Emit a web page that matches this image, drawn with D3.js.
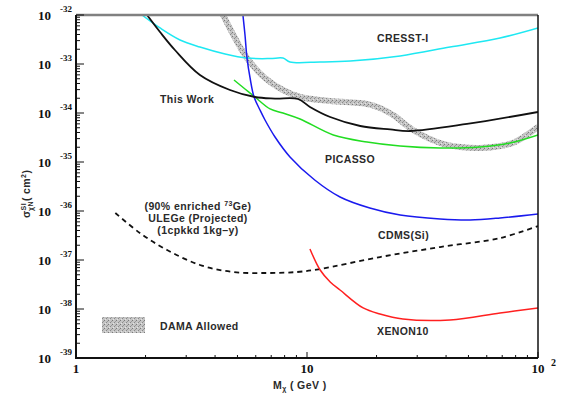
<!DOCTYPE html>
<html>
<head>
<meta charset="utf-8">
<script src="https://cdn.jsdelivr.net/npm/d3@7"></script>
<style>
body{margin:0;background:#fff;}
text{font-family:"Liberation Sans",Arial,sans-serif;}
.lbl{font-size:10.5px;fill:#2a2a2a;letter-spacing:0.4px;font-weight:bold;}
.tk{font-family:"Liberation Serif","DejaVu Serif",serif;font-weight:bold;fill:#111;}
</style>
</head>
<body>
<svg width="565" height="401"></svg>
<script>
// data: mass in GeV, cross section in cm^2
var cresstM=[1.93,2.31,2.82,3.44,4.42,5.5,6.92,7.87,8.44,11.4,15.4,25.3,41.6,68.5,100];
var cresstS=[1e-32,5.43e-33,3.09e-33,2.22e-33,1.6e-33,1.32e-33,1.29e-33,1.32e-33,1.1e-33,1.1e-33,1.15e-33,1.46e-33,2.22e-33,3.39e-33,5.43e-33];
var thisM=[2.03,2.31,2.68,3.44,4.64,5.95,7.27,9.14,10.3,12.6,17.0,22.9,27.9,49.3,100];
var thisS=[1e-32,4.5e-33,1.93e-33,5.97e-34,2.95e-34,2.12e-34,1.97e-34,1.93e-34,1.33e-34,8.28e-35,5.43e-35,4.61e-35,4.29e-35,5.97e-35,1.05e-34];
var damaM=[4.33,4.88,5.5,6.58,7.87,9.33,12.6,18.2,20.7,23.6,28.8,37.7,46.0,56.1,68.5,79.5,100];
var damaS=[1e-32,3.39e-33,1.32e-33,5.18e-34,2.95e-34,2.12e-34,1.76e-34,1.53e-34,1.27e-34,9.1e-35,4.5e-35,2.44e-35,2.02e-35,1.93e-35,2.12e-35,2.56e-35,5.18e-35];
var cdmsM=[5.28,5.39,5.5,5.67,5.9,6.26,6.58,7.27,8.44,10.8,13.9,18.7,25.3,37.7,50.8,68.5,100];
var cdmsS=[1e-32,3.91e-33,1.32e-33,5.18e-34,2.12e-34,1.15e-34,7.2e-35,3.24e-35,1.27e-35,4.29e-36,1.93e-36,1.15e-36,8.28e-37,6.87e-37,6.55e-37,7.2e-37,8.69e-37];
var picM=[4.83,5.39,5.95,6.92,7.87,9.33,13.0,18.2,25.3,37.7,56.1,75.7,100];
var picS=[4.71e-34,3.09e-34,2.12e-34,1.21e-34,1e-34,7.55e-35,3.56e-35,2.56e-35,2.12e-35,1.93e-35,2.02e-35,2.44e-35,3.56e-35];
var ulegeM=[1.48,1.89,2.48,3.44,4.78,6.71,9.05,11.4,20.7,37.7,68.5,100];
var ulegeS=[9.1e-37,3.56e-37,1.6e-37,7.91e-38,5.69e-38,5.43e-38,5.69e-38,6.55e-38,1.15e-37,1.84e-37,2.81e-37,4.94e-37];
var xenonM=[10.3,11.4,12.6,13.9,17.5,20.7,26.0,41.6,68.5,100];
var xenonS=[1.68e-37,6.25e-38,3.56e-38,2.44e-38,1.05e-38,7.91e-39,6.25e-39,5.97e-39,8.28e-39,1.05e-38];
var xTicks=[1,10,100];
var yExp=[-32,-33,-34,-35,-36,-37,-38,-39];

var svg=d3.select("svg");
var L=76,R=538,T=15,B=358;
var x=d3.scaleLog().domain([1,100]).range([L,R]);
var y=d3.scaleLog().domain([1e-39,1e-32]).range([B,T]);

var defs=svg.append("defs");
defs.append("clipPath").attr("id","clip").append("rect")
  .attr("x",L).attr("y",T).attr("width",R-L).attr("height",B-T);
var pat=defs.append("pattern").attr("id","hatch").attr("patternUnits","userSpaceOnUse")
  .attr("width",4).attr("height",4);
pat.append("rect").attr("width",4).attr("height",4).attr("fill","#c4c4c4");
pat.append("rect").attr("x",0).attr("y",0).attr("width",1).attr("height",1).attr("fill","#7a7a7a");
pat.append("rect").attr("x",2).attr("y",2).attr("width",1).attr("height",1).attr("fill","#8a8a8a");
pat.append("rect").attr("x",1).attr("y",3).attr("width",1).attr("height",1).attr("fill","#e4e4e4");
pat.append("rect").attr("x",3).attr("y",1).attr("width",1).attr("height",1).attr("fill","#999");

function pts(m,s){return m.map(function(d,i){return [d,s[i]];});}
var line=d3.line().x(d=>x(d[0])).y(d=>y(d[1])).curve(d3.curveCatmullRom.alpha(0.5));
var plot=svg.append("g").attr("clip-path","url(#clip)");

plot.append("path").attr("d",line(pts(damaM,damaS))).attr("fill","none")
  .attr("stroke","url(#hatch)").attr("stroke-width",6);
plot.append("path").attr("d",line(pts(cresstM,cresstS))).attr("fill","none")
  .attr("stroke","#1ee8f2").attr("stroke-width",1.5);
plot.append("path").attr("d",line(pts(picM,picS))).attr("fill","none")
  .attr("stroke","#22dd22").attr("stroke-width",1.5);
plot.append("path").attr("d",line(pts(cdmsM,cdmsS))).attr("fill","none")
  .attr("stroke","#1a1aee").attr("stroke-width",1.5);
plot.append("path").attr("d",line(pts(thisM,thisS))).attr("fill","none")
  .attr("stroke","#111").attr("stroke-width",1.8);
plot.append("path").attr("d",line(pts(ulegeM,ulegeS))).attr("fill","none")
  .attr("stroke","#111").attr("stroke-width",1.8).attr("stroke-dasharray","5,4");
plot.append("path").attr("d",line(pts(xenonM,xenonS))).attr("fill","none")
  .attr("stroke","#ff2020").attr("stroke-width",1.5);

// frame
svg.append("line").attr("x1",L).attr("x2",R).attr("y1",T).attr("y2",T)
  .attr("stroke","#808080").attr("stroke-width",2.5);
svg.append("line").attr("x1",R).attr("x2",R).attr("y1",T).attr("y2",B)
  .attr("stroke","#111").attr("stroke-width",1.5);
svg.append("line").attr("x1",L).attr("x2",L).attr("y1",T).attr("y2",B+1)
  .attr("stroke","#111").attr("stroke-width",2);
svg.append("line").attr("x1",L).attr("x2",R).attr("y1",B).attr("y2",B)
  .attr("stroke","#111").attr("stroke-width",2);

// ticks
y.ticks().forEach(function(v){
  var major=Math.abs(Math.log10(v)-Math.round(Math.log10(v)))<1e-6;
  svg.append("line").attr("x1",L).attr("x2",L+(major?8:4))
    .attr("y1",y(v)).attr("y2",y(v)).attr("stroke","#111").attr("stroke-width",1);
});
x.ticks().forEach(function(v){
  var major=Math.abs(Math.log10(v)-Math.round(Math.log10(v)))<1e-6;
  svg.append("line").attr("x1",x(v)).attr("x2",x(v))
    .attr("y1",B).attr("y2",B-(major?6:3)).attr("stroke","#111").attr("stroke-width",1);
});

// tick labels
yExp.forEach(function(e){
  svg.append("text").attr("class","tk").attr("x",38).attr("y",y(Math.pow(10,e))+5)
    .style("font-size","13px").text("10");
  svg.append("text").attr("class","tk").attr("x",60).attr("y",y(Math.pow(10,e))-3)
    .style("font-size","9px").text(e);
});
svg.append("text").attr("class","tk").attr("x",x(1)).attr("y",373)
  .attr("text-anchor","middle").style("font-size","13px").text("1");
svg.append("text").attr("class","tk").attr("x",x(10)).attr("y",373)
  .attr("text-anchor","middle").style("font-size","13px").text("10");
svg.append("text").attr("class","tk").attr("x",x(100)).attr("y",373)
  .attr("text-anchor","middle").style("font-size","13px").text("10");
svg.append("text").attr("class","tk").attr("x",x(100)+13).attr("y",366)
  .style("font-size","10px").text("2");

// axis titles
var xt=svg.append("text").attr("class","lbl").attr("x",273).attr("y",389);
xt.append("tspan").text("M");
xt.append("tspan").attr("dy",2).style("font-size","7px").text("χ");
xt.append("tspan").attr("dy",-2).text(" ( GeV )");
var yt=svg.append("text").attr("class","lbl").attr("transform","translate(30,218) rotate(-90)");
yt.append("tspan").text("σ");
yt.append("tspan").attr("dy",-4).style("font-size","7px").text("SI");
yt.append("tspan").attr("dx",-8).attr("dy",7).style("font-size","7px").text("χN");
yt.append("tspan").attr("dy",-3).text("( cm");
yt.append("tspan").attr("dy",-4).style("font-size","7px").text("2");
yt.append("tspan").attr("dy",4).text(")");

// curve labels
var labels=[["CRESST-I",377,42],["This Work",160,103],["PICASSO",325,163],["CDMS(Si)",378,239],
  ["XENON10",377,335],["DAMA Allowed",160,330]];
labels.forEach(function(d){
  svg.append("text").attr("class","lbl").attr("x",d[1]).attr("y",d[2]).text(d[0]);
});
var ul=svg.append("text").attr("class","lbl").attr("text-anchor","middle");
var t1=ul.append("tspan").attr("x",198).attr("y",210);
t1.append("tspan").text("(90% enriched ");
t1.append("tspan").attr("dy",-4).style("font-size","7px").text("73");
t1.append("tspan").attr("dy",4).text("Ge)");
ul.append("tspan").attr("x",198).attr("y",222).text("ULEGe (Projected)");
ul.append("tspan").attr("x",198).attr("y",234).text("(1cpkkd 1kg\u2013y)");

svg.append("rect").attr("x",102).attr("y",317).attr("width",43).attr("height",16)
  .attr("fill","url(#hatch)");
</script>
</body>
</html>
